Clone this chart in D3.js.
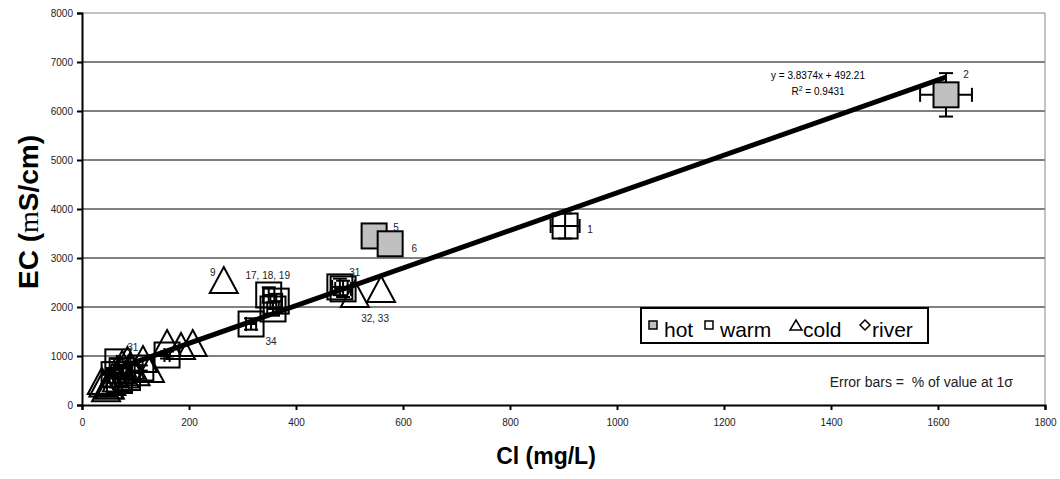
<!DOCTYPE html>
<html>
<head>
<meta charset="utf-8">
<script src="https://cdn.jsdelivr.net/npm/d3@7"></script>
<style>
  body { margin: 0; background: #fff; }
  svg { font-family: "Liberation Sans", Arial, sans-serif; }
</style>
</head>
<body>
<div id="chart"></div>
<script>
// Cl (mg/L) vs EC, by water type
const hotCl = [1615, 546, 576];
const hotEC = [6330, 3450, 3290];
const hotId = ['2', '5', '6'];

const warmCl = [903, 349, 363, 357, 482, 488, 316, 67, 159, 110, 75, 60, 85, 70];
const warmEC = [3653, 2245, 2120, 1960, 2410, 2370, 1653, 880, 1020, 755, 700, 620, 560, 500];
const warmId = ['1', '17, 18, 19', '', '', '31', '', '34', '31', '', '', '', '', '', ''];

const coldCl = [265, 510, 559, 159, 185, 207, 114, 127, 100, 90, 80, 72, 65, 60, 55, 50, 45, 40, 37, 75, 85, 52];
const coldEC = [2530, 2245, 2347, 1245, 1184, 1245, 918, 714, 650, 780, 600, 700, 520, 620, 450, 380, 320, 420, 470, 820, 900, 378];
const coldId = ['9', '', '32, 33', '', '', '', '', '', '', '', '', '', '', '', '', '', '', '', '', '', '', ''];

const riverCl = [];
const riverEC = [];

const xTicks = [0, 200, 400, 600, 800, 1000, 1200, 1400, 1600, 1800];
const yTicks = [0, 1000, 2000, 3000, 4000, 5000, 6000, 7000, 8000];

const slope = 3.8374, intercept = 492.21, r2 = 0.9431;
const errX = 0.03, errY = 0.07;

const legendItems = ['hot', 'warm', 'cold', 'river'];

const width = 1060, height = 479;
const margin = { top: 13, right: 15, bottom: 74, left: 82 };

const svg = d3.select('#chart').append('svg')
  .attr('width', width)
  .attr('height', height);

const x = d3.scaleLinear().domain([0, 1800]).range([margin.left, width - margin.right]);
const y = d3.scaleLinear().domain([0, 8000]).range([height - margin.bottom, margin.top]);

// gridlines
svg.append('g')
  .selectAll('line')
  .data(yTicks.filter(d => d > 0))
  .join('line')
  .attr('x1', x(0)).attr('x2', x(1800))
  .attr('y1', d => y(d)).attr('y2', d => y(d))
  .attr('stroke', d => d === 8000 ? '#888' : '#000')
  .attr('stroke-width', 1);

svg.append('line')
  .attr('x1', x(1800)).attr('x2', x(1800))
  .attr('y1', y(0)).attr('y2', y(8000))
  .attr('stroke', '#888');

// axes
const xAxis = svg.append('g')
  .attr('transform', `translate(0,${y(0)})`)
  .call(d3.axisBottom(x).tickValues(xTicks).tickFormat(d3.format('d')).tickSize(5).tickPadding(9));
const yAxis = svg.append('g')
  .attr('transform', `translate(${x(0)},0)`)
  .call(d3.axisLeft(y).tickValues(yTicks).tickFormat(d3.format('d')).tickSize(5).tickPadding(4));

[xAxis, yAxis].forEach(a => {
  a.select('.domain').attr('stroke', '#000').attr('stroke-width', 2);
  a.selectAll('.tick line').attr('stroke', '#000').attr('stroke-width', 2);
  a.selectAll('.tick text').attr('font-size', 10).attr('fill', '#222')
    .attr('font-family', '"Liberation Sans", Arial, sans-serif');
});

// axis titles
svg.append('text')
  .attr('x', 546).attr('y', 464)
  .attr('text-anchor', 'middle')
  .attr('font-size', 23).attr('font-weight', 'bold')
  .text('Cl (mg/L)');

const yt = svg.append('text')
  .attr('transform', 'translate(38,212) rotate(-90)')
  .attr('text-anchor', 'middle')
  .attr('font-size', 28).attr('font-weight', 'bold');
yt.append('tspan').text('EC (');
yt.append('tspan').attr('font-family', '"Liberation Serif", serif').attr('font-weight', 'normal').text('m');
yt.append('tspan').text('S/cm)');

const pts = (cl, ec, id) => cl.map((v, i) => ({ cl: v, ec: ec[i], id: id ? id[i] : '' }));
const hot = pts(hotCl, hotEC, hotId);
const warm = pts(warmCl, warmEC, warmId);
const cold = pts(coldCl, coldEC, coldId);

// error bars (hot and warm)
const eb = svg.append('g').attr('stroke', '#000').attr('stroke-width', 2);
const cap = 7;
hot.concat(warm).forEach(d => {
  const cx = x(d.cl), cy = y(d.ec);
  const x0 = x(d.cl * (1 - errX)), x1 = x(d.cl * (1 + errX));
  const y0 = y(d.ec * (1 - errY)), y1 = y(d.ec * (1 + errY));
  eb.append('line').attr('x1', x0).attr('x2', x1).attr('y1', cy).attr('y2', cy);
  eb.append('line').attr('x1', x0).attr('x2', x0).attr('y1', cy - cap).attr('y2', cy + cap);
  eb.append('line').attr('x1', x1).attr('x2', x1).attr('y1', cy - cap).attr('y2', cy + cap);
  eb.append('line').attr('x1', cx).attr('x2', cx).attr('y1', y0).attr('y2', y1);
  eb.append('line').attr('x1', cx - cap).attr('x2', cx + cap).attr('y1', y0).attr('y2', y0);
  eb.append('line').attr('x1', cx - cap).attr('x2', cx + cap).attr('y1', y1).attr('y2', y1);
});

const sq = 25;
// cold triangles
svg.append('g').selectAll('path')
  .data(cold)
  .join('path')
  .attr('d', d => {
    const cx = x(d.cl), cy = y(d.ec);
    return `M${cx},${cy - 14}L${cx + 14},${cy + 12}L${cx - 14},${cy + 12}Z`;
  })
  .attr('fill', 'none').attr('stroke', '#000').attr('stroke-width', 2);

// warm squares
svg.append('g').selectAll('rect')
  .data(warm)
  .join('rect')
  .attr('x', d => x(d.cl) - sq / 2).attr('y', d => y(d.ec) - sq / 2)
  .attr('width', sq).attr('height', sq)
  .attr('fill', 'none').attr('stroke', '#000').attr('stroke-width', 2);

// hot squares
svg.append('g').selectAll('rect')
  .data(hot)
  .join('rect')
  .attr('x', d => x(d.cl) - sq / 2).attr('y', d => y(d.ec) - sq / 2)
  .attr('width', sq).attr('height', sq)
  .attr('fill', '#c0c0c0').attr('stroke', '#000').attr('stroke-width', 2);

// trend line
const fit = d3.line().x(d => x(d)).y(d => y(slope * d + intercept));
svg.append('path')
  .datum([37, 1615])
  .attr('d', fit)
  .attr('stroke', '#000').attr('stroke-width', 5).attr('fill', 'none');

svg.append('text')
  .attr('x', 818).attr('y', 79)
  .attr('text-anchor', 'middle').attr('font-size', 10)
  .text(`y = ${slope}x + ${intercept}`);
const r2t = svg.append('text')
  .attr('x', 818).attr('y', 95)
  .attr('text-anchor', 'middle').attr('font-size', 10);
r2t.append('tspan').text('R');
r2t.append('tspan').attr('font-size', 7).attr('dy', -4).text('2');
r2t.append('tspan').attr('dy', 4).text(` = ${r2}`);

// point labels
const labelOffset = {
  '2': [20, -20], '5': [22, -8], '6': [24, 5], '1': [25, 3], '9': [-11, -9],
  '17, 18, 19': [-1, -19], '34': [20, 17], '31': [15, -14], '32, 33': [-6, 29]
};
svg.append('g').selectAll('text')
  .data(hot.concat(warm, cold).filter(d => d.id))
  .join('text')
  .attr('x', d => x(d.cl) + labelOffset[d.id][0])
  .attr('y', d => y(d.ec) + labelOffset[d.id][1])
  .attr('text-anchor', 'middle')
  .attr('dy', '0.35em')
  .attr('font-size', 10).attr('fill', '#222')
  .text(d => d.id);

// legend
const lg = svg.append('g').attr('transform', 'translate(641,308)');
lg.append('rect').attr('width', 287).attr('height', 35)
  .attr('fill', '#fff').attr('stroke', '#000').attr('stroke-width', 2);
const lx = [12, 68, 155, 224];
legendItems.forEach((name, i) => {
  const g = lg.append('g').attr('transform', `translate(${lx[i]},0)`);
  if (name === 'hot' || name === 'warm') {
    g.append('rect').attr('x', -4).attr('y', 13).attr('width', 8).attr('height', 8)
      .attr('fill', name === 'hot' ? '#c0c0c0' : '#fff').attr('stroke', '#000').attr('stroke-width', 1.5);
  } else if (name === 'cold') {
    g.append('path').attr('d', 'M0,12L6,22L-6,22Z')
      .attr('fill', 'none').attr('stroke', '#000').attr('stroke-width', 1.5);
  } else {
    g.append('path').attr('d', 'M0,12L5,17L0,22L-5,17Z')
      .attr('fill', 'none').attr('stroke', '#000').attr('stroke-width', 1.5);
  }
  g.append('text').attr('x', i < 2 ? 11 : 7).attr('y', 29).attr('font-size', 21).text(name);
});

svg.append('text')
  .attr('x', 1013).attr('y', 387)
  .attr('text-anchor', 'end').attr('font-size', 14).attr('fill', '#222')
  .style('white-space', 'pre')
  .text('Error bars =  % of value at 1σ');
</script>
</body>
</html>
